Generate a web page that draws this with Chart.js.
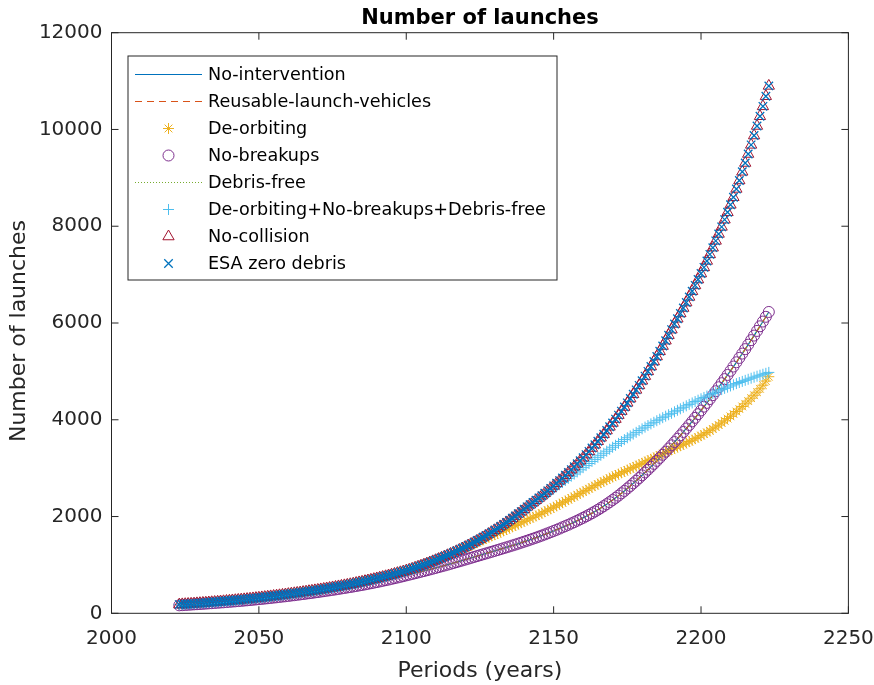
<!DOCTYPE html>
<html>
<head>
<meta charset="utf-8">
<script src="https://cdn.jsdelivr.net/npm/chart.js@4.4.1/dist/chart.umd.min.js"></script>
<style>
  body { margin: 0; background: #fff; }
  canvas { display: block; }
</style>
</head>
<body>
<canvas id="myChart" width="874" height="685"></canvas>
<script>
// one point per year, 2023..2223
const years = Array.from({ length: 201 }, (_, i) => 2023 + i);

// No-collision / ESA zero debris (top curve)
const topLaunches = [
  180, 184, 188, 192, 196, 200, 205, 209, 214, 218, 223, 228, 233, 238, 243, 248, 254, 259, 265, 270,
  276, 282, 288, 294, 301, 307, 314, 321, 328, 335, 342, 349, 357, 364, 372, 380, 388, 396, 405, 413,
  421, 429, 438, 447, 456, 465, 474, 483, 493, 503, 513, 523, 534, 544, 555, 566, 577, 588, 600, 612,
  625, 638, 651, 664, 678, 692, 706, 720, 735, 750, 765, 781, 797, 813, 830, 847, 864, 882, 900, 920,
  941, 962, 983, 1005, 1027, 1050, 1074, 1098, 1122, 1147, 1173, 1199, 1226, 1253, 1281, 1310, 1339, 1369, 1400, 1432,
  1465, 1498, 1532, 1567, 1603, 1640, 1677, 1716, 1755, 1795, 1836, 1878, 1921, 1965, 2010, 2056, 2102, 2150, 2200, 2245,
  2290, 2336, 2383, 2431, 2480, 2531, 2582, 2634, 2687, 2742, 2797, 2854, 2911, 2970, 3030, 3091, 3153, 3216, 3280, 3347,
  3415, 3485, 3556, 3629, 3702, 3778, 3855, 3934, 4014, 4096, 4179, 4264, 4350, 4438, 4527, 4618, 4711, 4806, 4902, 5001,
  5101, 5204, 5308, 5415, 5524, 5635, 5748, 5863, 5980, 6088, 6198, 6310, 6423, 6539, 6657, 6777, 6899, 7023, 7150, 7283,
  7419, 7557, 7698, 7841, 7987, 8136, 8288, 8443, 8600, 8771, 8946, 9125, 9307, 9493, 9682, 9875, 10072, 10273, 10478, 10687,
  10900
];

// De-orbiting
const deorbitLaunches = [
  180, 184, 188, 192, 196, 200, 205, 209, 214, 218, 223, 228, 233, 238, 243, 248, 254, 259, 265, 270,
  276, 282, 288, 294, 301, 307, 314, 321, 328, 335, 342, 349, 357, 364, 372, 380, 388, 396, 405, 413,
  421, 429, 438, 447, 456, 465, 474, 483, 493, 503, 513, 523, 534, 544, 555, 566, 577, 588, 600, 612,
  625, 638, 651, 664, 678, 692, 706, 720, 735, 750, 765, 781, 797, 813, 830, 847, 864, 882, 900, 920,
  941, 962, 983, 1005, 1027, 1050, 1074, 1098, 1122, 1147, 1173, 1199, 1226, 1253, 1275, 1300, 1325, 1351, 1378, 1405,
  1432, 1460, 1488, 1516, 1545, 1574, 1600, 1626, 1650, 1677, 1705, 1732, 1760, 1787, 1815, 1843, 1872, 1900, 1928, 1956,
  1984, 2012, 2040, 2070, 2100, 2130, 2160, 2191, 2222, 2254, 2286, 2318, 2350, 2382, 2414, 2446, 2478, 2510, 2542, 2574,
  2606, 2638, 2670, 2700, 2730, 2760, 2790, 2819, 2848, 2876, 2904, 2932, 2960, 2988, 3016, 3044, 3072, 3100, 3128, 3156,
  3184, 3212, 3240, 3268, 3296, 3324, 3352, 3380, 3408, 3436, 3464, 3492, 3520, 3549, 3578, 3609, 3640, 3672, 3704, 3738,
  3772, 3810, 3850, 3891, 3934, 3978, 4024, 4071, 4120, 4170, 4222, 4275, 4330, 4387, 4446, 4507, 4570, 4640, 4715, 4800,
  4890
];

// No-breakups (No-intervention, Reusable-launch-vehicles and Debris-free lines run on it too)
const noBreakupLaunches = [
  165, 168, 172, 176, 180, 184, 188, 192, 196, 200, 205, 209, 214, 218, 223, 227, 232, 237, 242, 247,
  252, 257, 263, 268, 274, 280, 286, 292, 298, 304, 311, 317, 324, 331, 338, 345, 352, 359, 367, 374,
  382, 390, 398, 406, 414, 422, 431, 439, 448, 457, 466, 475, 484, 493, 503, 513, 523, 533, 543, 553,
  564, 575, 586, 597, 609, 621, 633, 645, 658, 671, 684, 697, 711, 725, 739, 753, 768, 783, 798, 813,
  828, 843, 859, 874, 890, 906, 922, 938, 955, 971, 988, 1005, 1022, 1039, 1057, 1074, 1092, 1110, 1128, 1146,
  1164, 1182, 1200, 1218, 1236, 1254, 1272, 1290, 1308, 1326, 1345, 1363, 1382, 1401, 1420, 1440, 1460, 1480, 1500, 1521,
  1542, 1563, 1585, 1607, 1630, 1653, 1677, 1701, 1726, 1751, 1777, 1803, 1830, 1857, 1885, 1914, 1943, 1973, 2004, 2036,
  2070, 2104, 2140, 2177, 2216, 2256, 2298, 2341, 2386, 2432, 2480, 2529, 2580, 2632, 2686, 2740, 2796, 2852, 2910, 2968,
  3028, 3088, 3150, 3212, 3276, 3340, 3406, 3472, 3540, 3608, 3678, 3748, 3820, 3892, 3966, 4040, 4116, 4192, 4270, 4348,
  4428, 4508, 4590, 4672, 4756, 4840, 4926, 5012, 5100, 5188, 5278, 5368, 5460, 5552, 5646, 5740, 5836, 5932, 6030, 6128,
  6228
];

// De-orbiting+No-breakups+Debris-free
const combinedLaunches = [
  180, 184, 188, 192, 196, 200, 205, 209, 214, 218, 223, 228, 233, 238, 243, 248, 254, 259, 265, 270,
  276, 282, 288, 294, 301, 307, 314, 321, 328, 335, 342, 349, 357, 364, 372, 380, 388, 396, 405, 413,
  421, 429, 438, 447, 456, 465, 474, 483, 493, 503, 513, 523, 534, 544, 555, 566, 577, 588, 600, 612,
  625, 638, 651, 664, 678, 692, 706, 720, 735, 750, 765, 781, 797, 813, 830, 847, 864, 882, 900, 920,
  941, 962, 983, 1005, 1027, 1050, 1074, 1098, 1122, 1147, 1173, 1199, 1226, 1253, 1281, 1310, 1339, 1369, 1400, 1432,
  1465, 1498, 1532, 1567, 1603, 1640, 1677, 1716, 1755, 1795, 1836, 1878, 1921, 1965, 2010, 2054, 2097, 2140, 2183, 2226,
  2269, 2312, 2355, 2398, 2441, 2484, 2527, 2570, 2614, 2658, 2702, 2746, 2790, 2834, 2878, 2922, 2966, 3010, 3053, 3096,
  3139, 3182, 3224, 3266, 3308, 3350, 3391, 3432, 3472, 3512, 3551, 3590, 3628, 3666, 3703, 3740, 3776, 3812, 3847, 3881,
  3915, 3948, 3980, 4012, 4043, 4074, 4104, 4133, 4165, 4196, 4227, 4258, 4288, 4318, 4347, 4376, 4405, 4434, 4462, 4490,
  4517, 4544, 4571, 4597, 4623, 4649, 4674, 4699, 4723, 4747, 4770, 4793, 4815, 4837, 4859, 4880, 4901, 4921, 4941, 4960,
  4979
];

const xTicks = [2000, 2050, 2100, 2150, 2200, 2250];
const yTicks = [0, 2000, 4000, 6000, 8000, 10000, 12000];

const FONT = '"DejaVu Sans", "Liberation Sans", Arial, sans-serif';
const INK = '#262626';

const toPoints = vals => vals.map((v, i) => ({ x: years[i], y: v }));

const series = [
  { label: 'No-intervention', data: noBreakupLaunches, color: '#0072BD', line: [] },
  { label: 'Reusable-launch-vehicles', data: noBreakupLaunches, color: '#D95319', line: [7, 5] },
  { label: 'De-orbiting', data: deorbitLaunches, color: '#EDB120', marker: 'star', r: 5.5 },
  { label: 'No-breakups', data: noBreakupLaunches, color: '#7E2F8E', marker: 'circle', r: 5.5 },
  { label: 'Debris-free', data: noBreakupLaunches, color: '#77AC30', line: [1, 2] },
  { label: 'De-orbiting+No-breakups+Debris-free', data: combinedLaunches, color: '#4DBEEE', marker: 'cross', r: 5.5 },
  { label: 'No-collision', data: topLaunches, color: '#A2142F', marker: 'triangle', r: 6.5 },
  { label: 'ESA zero debris', data: topLaunches, color: '#0072BD', marker: 'crossRot', r: 6 }
];

const datasets = series.map((s, i) => ({
  label: s.label,
  data: toPoints(s.data),
  order: series.length - i,
  showLine: !!s.line,
  borderColor: s.color,
  borderWidth: s.line ? 1.2 : 1,
  borderDash: s.line || [],
  backgroundColor: 'rgba(0,0,0,0)',
  pointStyle: s.marker || false,
  pointRadius: s.marker ? s.r : 0,
  pointBorderColor: s.color,
  pointBackgroundColor: 'rgba(0,0,0,0)',
  pointBorderWidth: s.marker === 'crossRot' ? 1.3 : 1,
  tension: 0
}));

const matlabFrame = {
  id: 'matlabFrame',
  afterDatasetsDraw(chart) {
    const { ctx, chartArea: a, scales } = chart;
    ctx.save();
    ctx.strokeStyle = INK;
    ctx.lineWidth = 1;
    ctx.strokeRect(a.left, a.top, a.right - a.left, a.bottom - a.top);
    const t = 7;
    ctx.beginPath();
    xTicks.forEach(v => {
      const px = scales.x.getPixelForValue(v);
      ctx.moveTo(px, a.bottom); ctx.lineTo(px, a.bottom - t);
      ctx.moveTo(px, a.top); ctx.lineTo(px, a.top + t);
    });
    yTicks.forEach(v => {
      const py = scales.y.getPixelForValue(v);
      ctx.moveTo(a.left, py); ctx.lineTo(a.left + t, py);
      ctx.moveTo(a.right, py); ctx.lineTo(a.right - t, py);
    });
    ctx.stroke();

    // legend box
    const lx = 128, ly = 56, lw = 429, lh = 224;
    ctx.fillStyle = '#fff';
    ctx.fillRect(lx, ly, lw, lh);
    ctx.strokeStyle = INK;
    ctx.strokeRect(lx, ly, lw, lh);
    ctx.font = '17.6px ' + FONT;
    ctx.textBaseline = 'middle';
    series.forEach((s, i) => {
      const y = 74.5 + i * 27;
      ctx.strokeStyle = s.color;
      ctx.lineWidth = 1.2;
      if (s.line) {
        ctx.setLineDash(s.line);
        ctx.beginPath();
        ctx.moveTo(135, y); ctx.lineTo(202, y);
        ctx.stroke();
        ctx.setLineDash([]);
      } else {
        ctx.lineWidth = s.marker === 'crossRot' ? 1.3 : 1;
        ctx.fillStyle = 'rgba(0,0,0,0)';
        Chart.helpers.drawPoint(ctx, { pointStyle: s.marker, radius: s.r, borderWidth: 1, rotation: 0 }, 168.5, y);
      }
      ctx.fillStyle = '#000';
      ctx.fillText(s.label, 208, y + 1);
    });

    // titles
    ctx.fillStyle = '#000';
    ctx.textAlign = 'center';
    ctx.textBaseline = 'alphabetic';
    ctx.font = 'bold 21px ' + FONT;
    ctx.fillText('Number of launches', (a.left + a.right) / 2, 24);
    ctx.fillStyle = INK;
    ctx.font = '22px ' + FONT;
    ctx.fillText('Periods (years)', (a.left + a.right) / 2, 677);
    ctx.save();
    ctx.translate(25, (a.top + a.bottom) / 2 + 8);
    ctx.rotate(-Math.PI / 2);
    ctx.fillText('Number of launches', 0, 0);
    ctx.restore();
    ctx.restore();
  }
};

new Chart(document.getElementById('myChart'), {
  type: 'line',
  data: { datasets },
  options: {
    responsive: false,
    animation: false,
    layout: { padding: { top: 32.7, right: 25.6, left: 0, bottom: 0 } },
    plugins: { legend: { display: false }, tooltip: { enabled: false }, title: { display: false } },
    scales: {
      x: {
        type: 'linear',
        min: 2000,
        max: 2250,
        afterFit: s => { s.height = 71.7; s.paddingLeft = 0; s.paddingRight = 0; },
        grid: { display: false, drawTicks: false },
        border: { display: false },
        ticks: {
          stepSize: 50,
          padding: 13,
          maxRotation: 0,
          color: INK,
          font: { family: FONT, size: 20 },
          callback: v => String(v)
        }
      },
      y: {
        min: 0,
        max: 12000,
        afterFit: s => { s.width = 111.5; s.paddingTop = 0; s.paddingBottom = 0; },
        grid: { display: false, drawTicks: false },
        border: { display: false },
        ticks: {
          stepSize: 2000,
          padding: 9,
          color: INK,
          font: { family: FONT, size: 20 },
          callback: v => String(v)
        }
      }
    }
  },
  plugins: [matlabFrame]
});
</script>
</body>
</html>
